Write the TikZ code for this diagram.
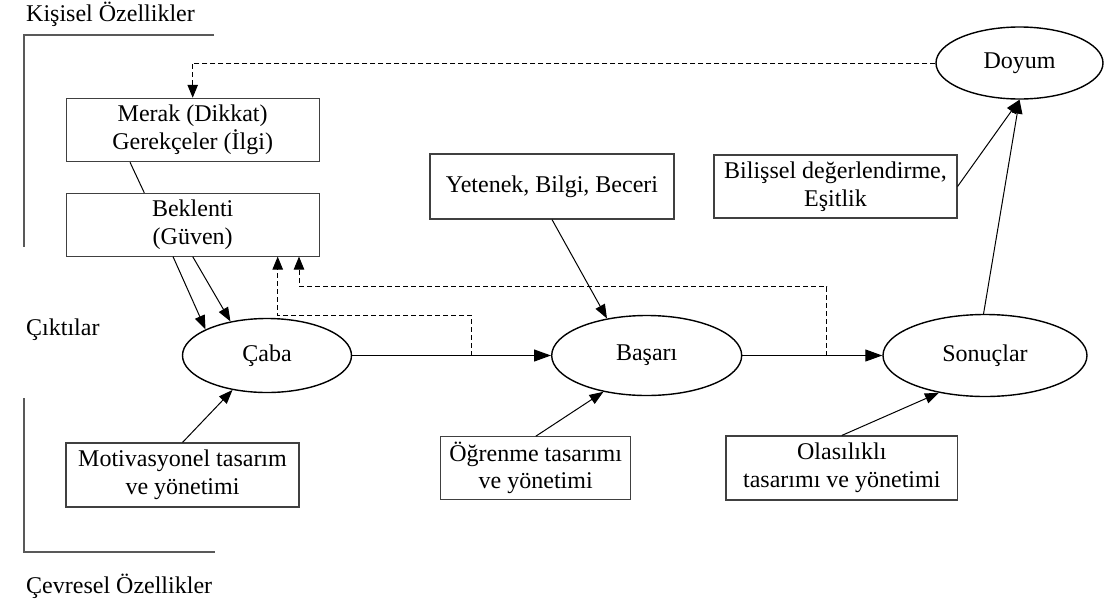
\documentclass[tikz,border=0pt]{standalone}
\usepackage{fontspec}
\setmainfont{Liberation Serif}
\usetikzlibrary{shapes.geometric,arrows.meta,calc}

\tikzset{
  base/.style={font=\fontsize{24}{27.5}\selectfont, inner sep=0pt, align=center},
  box/.style={base, draw=black!75, line width=1.1pt, rectangle},
  oval/.style={base, draw=black, line width=1.4pt, ellipse},
  label/.style={font=\fontsize{24}{27.5}\selectfont, inner sep=0pt, anchor=base west},
  link/.style={line width=1pt, -{Triangle[length=14pt,width=10.5pt]}},
  flow/.style={line width=1.1pt, -{Triangle[length=17pt,width=12pt]}},
  feedback/.style={line width=0.9pt, dash pattern=on 5pt off 3pt, -{Triangle[length=13pt,width=10.5pt]}},
  bracket/.style={draw=black!65, line width=1.8pt},
}

\begin{document}
\begin{tikzpicture}[x=1pt, y=-1pt]
  \useasboundingbox (0,0) rectangle (1104,603);

  % side captions
  \node[label] (kisisel) at (26,21.7) {Kişisel Özellikler};
  \node[label] (ciktilar) at (26,335) {Çıktılar};
  \node[label] (cevresel) at (26,593) {Çevresel Özellikler};

  % brackets
  \draw[bracket] (214,35) -- (24,35) -- (24,247);
  \draw[bracket] (24,398) -- (24,552) -- (215,552);

  % rectangular factors
  \node[box, minimum width=253.3pt, minimum height=63.4pt] (merak) at (192.7,130) {Merak (Dikkat)\\Gerekçeler (İlgi)};
  \node[box, minimum width=253.3pt, minimum height=62.7pt] (beklenti) at (192.7,224.7) {Beklenti\\(Güven)};
  \node[box, minimum width=244pt, minimum height=65pt] (yetenek) at (552,186.5) {Yetenek, Bilgi, Beceri};
  \node[box, minimum width=243pt, minimum height=63pt] (bilissel) at (835.5,186.5) {Bilişsel değerlendirme,\\Eşitlik};
  \node[box, minimum width=233pt, minimum height=64pt] (motiv) at (182.5,475) {Motivasyonel tasarım\\ve yönetimi};
  \node[box, minimum width=190pt, minimum height=62.3pt] (ogrenme) at (535.7,468) {Öğrenme tasarımı\\ve yönetimi};
  \node[box, minimum width=231.7pt, minimum height=64pt] (olasilik) at (841.8,468) {Olasılıklı\\tasarımı ve yönetimi};

  % main stages
  \node[oval, minimum width=169pt, minimum height=74pt] (caba) at (267,355.5) {Çaba};
  \node[oval, minimum width=190pt, minimum height=80pt] (basari) at (646.7,355.5) {Başarı};
  \node[oval, minimum width=204pt, minimum height=82pt] (sonuc) at (985,355.5) {Sonuçlar};
  \node[oval, minimum width=167pt, minimum height=72pt] (doyum) at (1019.5,63) {Doyum};

  % solid links
  \draw[line width=1pt] ([xshift=-62.7pt]merak.south) -- ([xshift=-48.4pt]beklenti.north);
  \draw[link] ([xshift=-19.7pt]beklenti.south) -- (caba.157);
  \draw[link] (beklenti.south) -- (caba.137);
  \draw[link] (motiv.north) -- (caba.225);
  \draw[link] (yetenek.south) -- (basari.137);
  \draw[link] (ogrenme.north) -- (basari.220);
  \draw[link] (olasilik.north) -- (sonuc.219);
  \draw[link] (sonuc.92) -- (doyum.south);
  \draw[link] (bilissel.east) -- (doyum.south);
  \draw[flow] (caba.east) -- (basari.west);
  \draw[flow] (basari.east) -- (sonuc.west);

  % feedback loops
  \coordinate (tapA) at (471.7,355.5);
  \coordinate (tapB) at (826.7,355.5);
  \draw[feedback] (doyum.west) -| (merak.north);
  \draw[feedback] (tapA) -- ++(0,-40.5) -| ([xshift=85pt]beklenti.south);
  \draw[feedback] (tapB) -- ++(0,-68.8) -| ([xshift=106.3pt]beklenti.south);
\end{tikzpicture}
\end{document}
